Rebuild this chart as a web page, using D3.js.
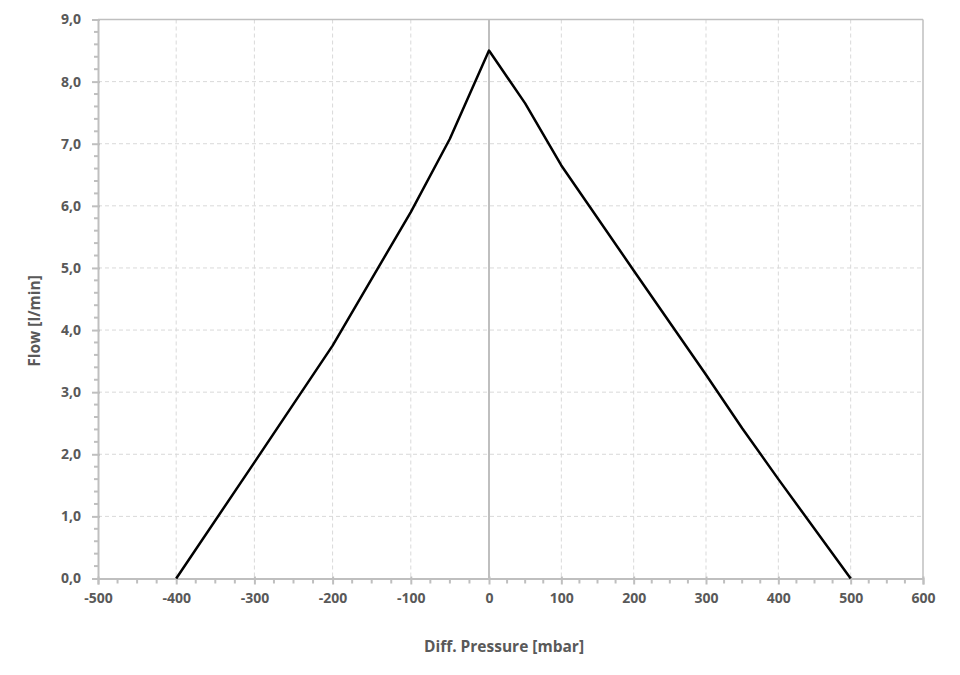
<!DOCTYPE html>
<html>
<head>
<meta charset="utf-8">
<script src="https://cdn.jsdelivr.net/npm/d3@7"></script>
<style>
  html, body { margin: 0; padding: 0; background: #fff; }
  svg text { font-family: "Open Sans", sans-serif; font-weight: 700; fill: #595959; }
</style>
</head>
<body>
<svg id="chart" width="960" height="675"></svg>
<script>
// Data
const pressure = [-400, -300, -200, -100, -50, 0, 50, 100, 200, 300, 350, 400, 500];
const flow     = [0, 1.87, 3.75, 5.9, 7.08, 8.5, 7.65, 6.65, 4.96, 3.28, 2.42, 1.6, 0];
const xTicks = [-500, -400, -300, -200, -100, 0, 100, 200, 300, 400, 500, 600];
const yTicks = [0, 1, 2, 3, 4, 5, 6, 7, 8, 9];
const xTitle = "Diff. Pressure [mbar]";
const yTitle = "Flow [l/min]";

(function () {
const svg = d3.select("#chart");
const pLeft = 98, pRight = 923, pTop = 19.5, pBottom = 578.5;
const fontFam = "'Open Sans', sans-serif";
const fs = 14;
const fsTitle = 15.5;

// The original picture spaces the negative side slightly wider than the positive side
const x = d3.scaleLinear().domain([-500, 0, 600]).range([pLeft, 489, pRight]);
const y = d3.scaleLinear().domain([0, 9]).range([pBottom, pTop]);

const axisColor = "#bfbfbf";
const gridColor = "#d9d9d9";

// gridlines
const g = svg.append("g");
g.selectAll(".vg").data(xTicks.filter(d => d !== -500 && d !== 0 && d !== 600)).join("line")
  .attr("x1", d => x(d)).attr("x2", d => x(d)).attr("y1", pTop).attr("y2", pBottom)
  .attr("stroke", gridColor).attr("stroke-width", 1).attr("stroke-dasharray", "4,3");
g.selectAll(".hg").data(yTicks.filter(d => d !== 0 && d !== 9)).join("line")
  .attr("x1", pLeft).attr("x2", pRight).attr("y1", d => y(d)).attr("y2", d => y(d))
  .attr("stroke", gridColor).attr("stroke-width", 1).attr("stroke-dasharray", "4,3");

// plot border top & right
g.append("line").attr("x1", pLeft).attr("x2", pRight).attr("y1", y(9)).attr("y2", y(9))
  .attr("stroke", axisColor).attr("stroke-width", 1.5);
g.append("line").attr("x1", x(600)).attr("x2", x(600)).attr("y1", pTop).attr("y2", pBottom)
  .attr("stroke", axisColor).attr("stroke-width", 1.5);
// zero line
g.append("line").attr("x1", x(0)).attr("x2", x(0)).attr("y1", pTop).attr("y2", pBottom)
  .attr("stroke", axisColor).attr("stroke-width", 2);

// minor ticks
const xMinor = d3.range(-500, 601, 25).filter(d => d % 100 !== 0);
const yMinor = d3.range(0, 9.01, 0.2).filter(d => Math.abs(d - Math.round(d)) > 1e-6);
g.selectAll(".xm").data(xMinor).join("line")
  .attr("x1", d => x(d)).attr("x2", d => x(d)).attr("y1", pBottom).attr("y2", pBottom + 5)
  .attr("stroke", axisColor).attr("stroke-width", 2);
g.selectAll(".ym").data(yMinor).join("line")
  .attr("x1", pLeft - 4).attr("x2", pLeft).attr("y1", d => y(d)).attr("y2", d => y(d))
  .attr("stroke", axisColor).attr("stroke-width", 2);

// axes via d3
const xAxis = d3.axisBottom(x).tickValues(xTicks).tickSize(6).tickFormat(d3.format("d"));
const xa = svg.append("g").attr("transform", `translate(0,${pBottom})`).call(xAxis);
xa.select(".domain").attr("stroke", axisColor).attr("stroke-width", 2);
xa.selectAll(".tick line").attr("stroke", axisColor).attr("stroke-width", 2).attr("y1", -2);
xa.selectAll(".tick text").attr("y", 15).attr("font-size", fs)
  .style("font-family", fontFam).style("font-weight", 700).attr("fill", "#595959")
  .text(d => d < 0 ? "-" + Math.abs(d) : d);

const yAxis = d3.axisLeft(y).tickValues(yTicks).tickSize(6).tickFormat(d => d3.format(".1f")(d).replace(".", ","));
const ya = svg.append("g").attr("transform", `translate(${pLeft},0)`).call(yAxis);
ya.select(".domain").attr("stroke", axisColor).attr("stroke-width", 2);
ya.selectAll(".tick line").attr("stroke", axisColor).attr("stroke-width", 2).attr("x1", 2);
ya.selectAll(".tick text").attr("x", -17).attr("font-size", fs)
  .style("font-family", fontFam).style("font-weight", 700).attr("fill", "#595959");

// line
const pts = pressure.map((p, i) => [p, flow[i]]);
svg.append("path").datum(pts)
  .attr("d", d3.line().x(d => x(d[0])).y(d => y(d[1])))
  .attr("fill", "none").attr("stroke", "#000").attr("stroke-width", 2.5).attr("stroke-linejoin", "round");

// titles
svg.append("text").attr("x", 504).attr("y", 652).attr("text-anchor", "middle").attr("font-size", fsTitle).text(xTitle);
svg.append("text").attr("transform", "translate(40,321) rotate(-90)").attr("text-anchor", "middle").attr("font-size", fsTitle).text(yTitle);
})();
</script>
</body>
</html>
